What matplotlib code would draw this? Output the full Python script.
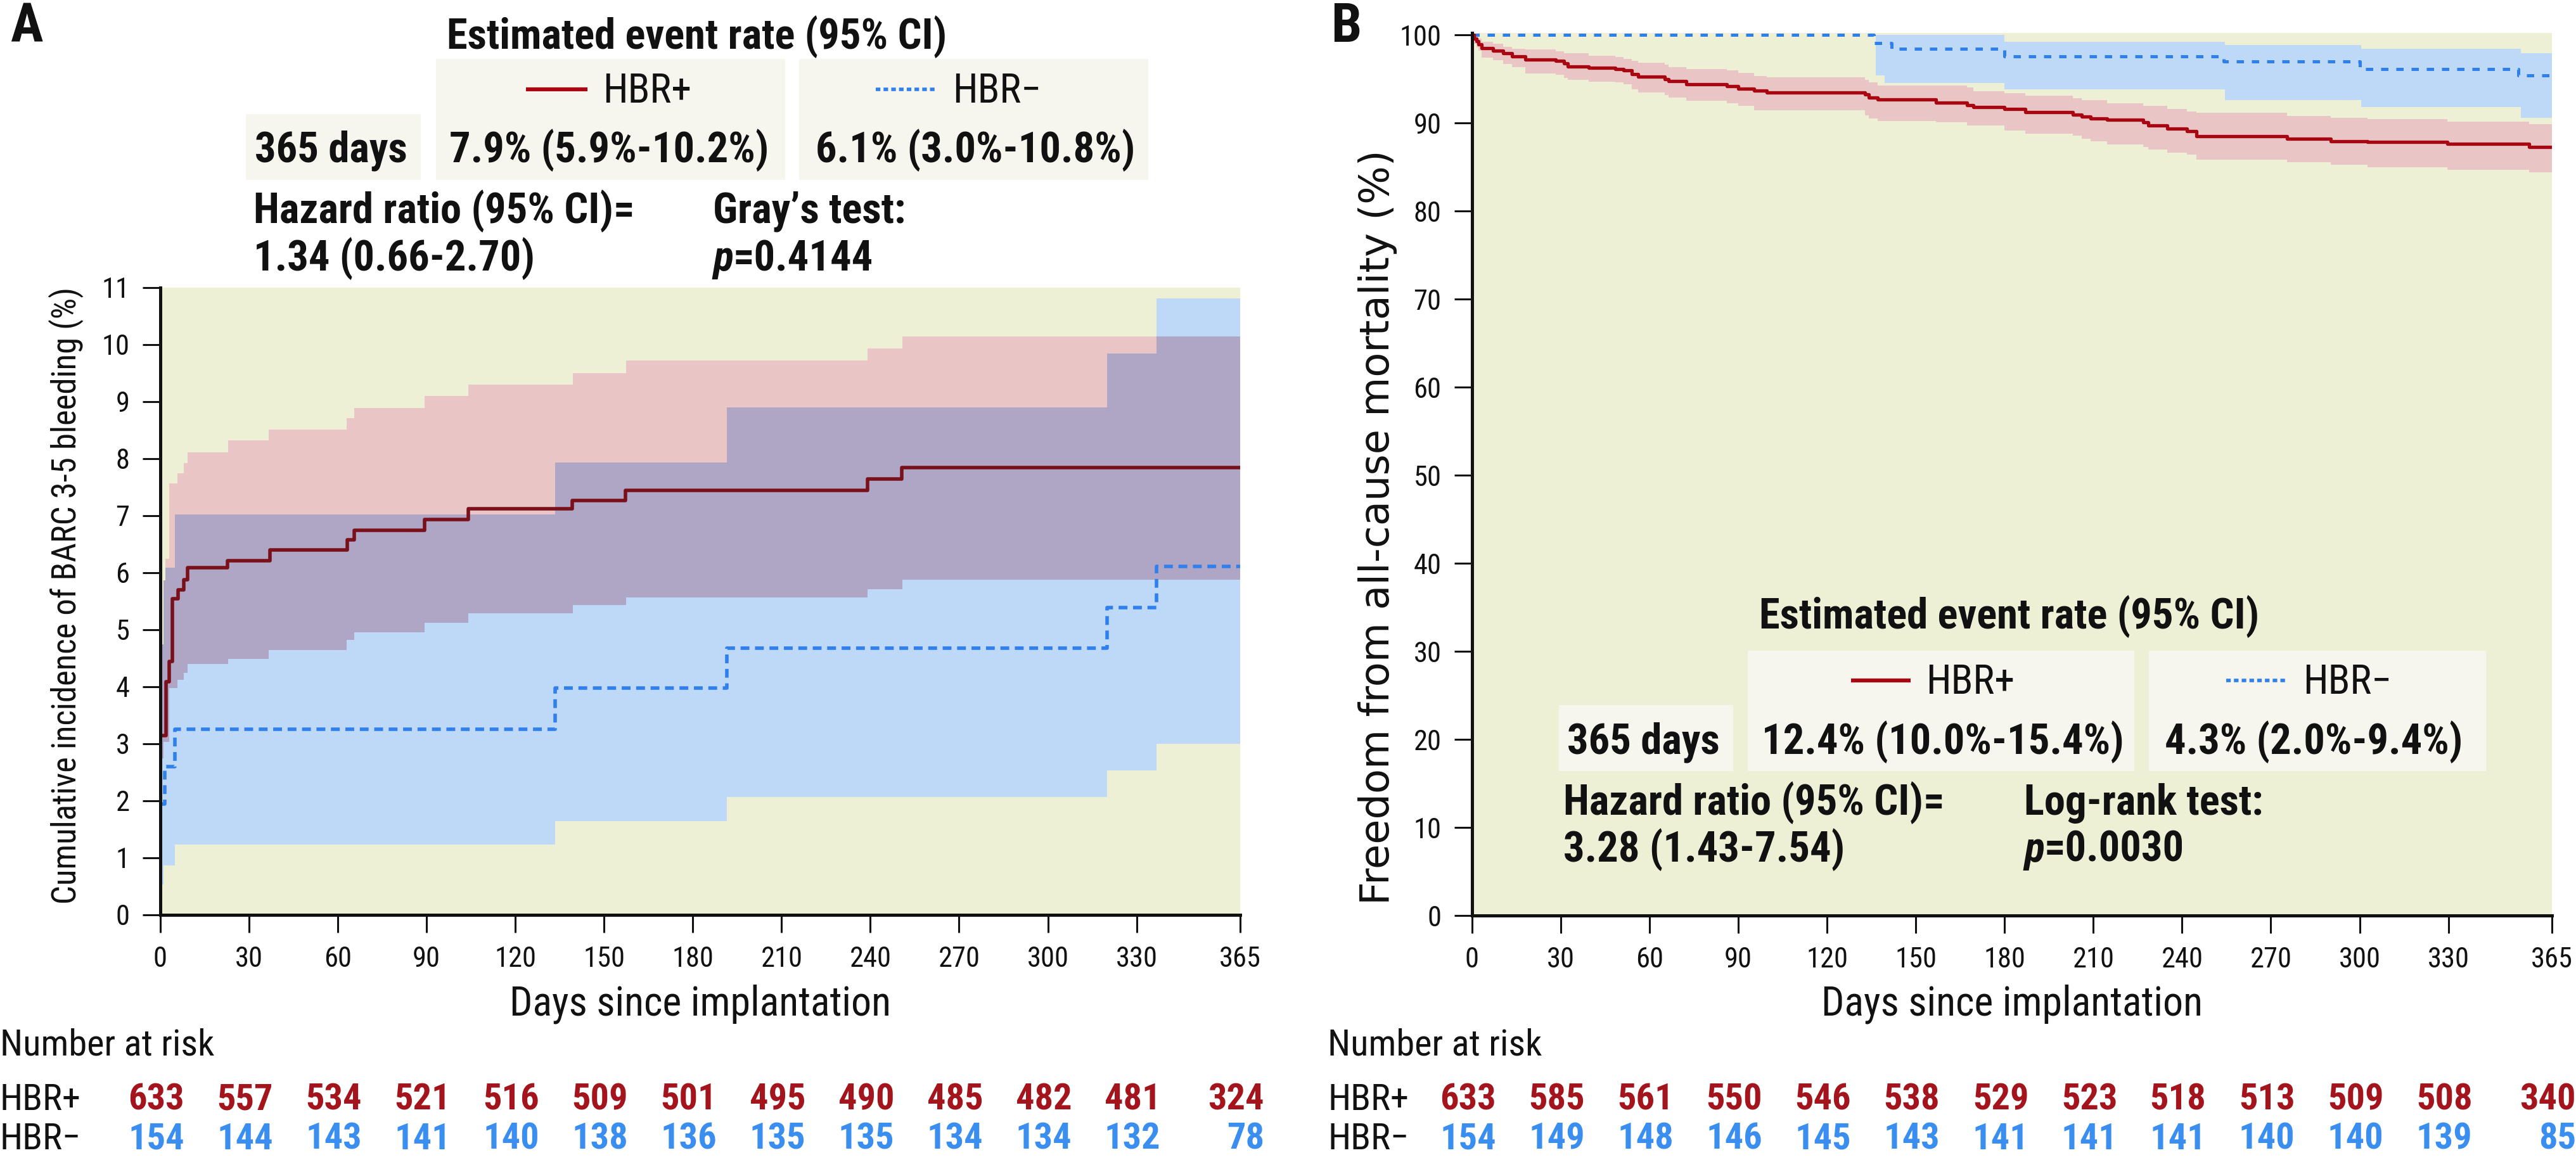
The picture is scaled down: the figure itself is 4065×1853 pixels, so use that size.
import numpy as np
import matplotlib
matplotlib.use("Agg")
import matplotlib.pyplot as plt
from matplotlib import font_manager as fm, transforms
from matplotlib.patches import Rectangle
from matplotlib.lines import Line2D

# ---------------- data ----------------
tick_days = [0, 30, 60, 90, 120, 150, 180, 210, 240, 270, 300, 330, 365]

# Panel A: cumulative incidence of BARC 3-5 bleeding (%)
A_pos_t = [0, 1.9, 3.0, 4.0, 6.0, 7.9, 9.2, 22.6, 37.1, 63.2, 65.5, 89.3, 104.2, 139.3, 157.3, 239.0, 250.7]
A_pos_v = [3.15, 4.09, 4.44, 5.55, 5.70, 5.88, 6.09, 6.21, 6.40, 6.58, 6.74, 6.93, 7.12, 7.27, 7.44, 7.64, 7.84]
A_pos_ci_t = [0, 1.1, 1.8, 3.1, 5.8, 7.9, 9.3, 23.0, 36.6, 63.0, 65.5, 89.3, 104.0, 139.5, 157.5, 239.0, 250.8]
A_pos_hi = [4.75, 5.87, 6.25, 7.57, 7.74, 7.92, 8.11, 8.32, 8.51, 8.71, 8.89, 9.10, 9.30, 9.50, 9.72, 9.93, 10.15]
A_pos_lo = [2.75, 3.03, 3.03, 3.98, 4.12, 4.25, 4.40, 4.49, 4.64, 4.82, 4.96, 5.12, 5.29, 5.43, 5.57, 5.71, 5.88]
A_neg_t = [0, 1.4, 4.9, 133.5, 191.6, 320.0, 336.8]
A_neg_v = [1.94, 2.60, 3.26, 3.98, 4.68, 5.39, 6.11]
A_neg_ci_t = [0, 1.1, 1.8, 5.0, 133.5, 191.6, 320.0, 336.8]
A_neg_hi = [4.75, 5.87, 6.09, 7.02, 7.93, 8.90, 9.84, 10.81]
A_neg_lo = [0.53, 0.87, 0.87, 1.23, 1.64, 2.07, 2.53, 3.00]

# Panel B: freedom from all-cause mortality (%)
B_pos_t = [0, 0.6, 1.4, 2.2, 3.2, 7.0, 10.5, 13.5, 18.0, 28.3, 31.0, 32.4, 39.5, 48.4, 51.2, 54.0, 56.1,
           65.2, 66.4, 72.5, 86.1, 90.0, 95.3, 99.6, 132.8, 134.0, 137.1, 156.8, 167.2, 169.4, 180.0, 187.0,
           203.0, 206.0, 209.1, 214.6, 226.9, 228.5, 234.9, 241.7, 244.8, 275.5, 290.3, 302.6, 329.6, 357.3]
B_pos_v = [100, 99.57, 99.33, 98.97, 98.49, 98.25, 97.96, 97.62, 97.21, 97.05, 96.76, 96.45, 96.28, 96.16,
           95.97, 95.56, 95.32, 95.01, 94.81, 94.45, 94.17, 93.93, 93.69, 93.52, 93.28, 92.89, 92.68, 92.34,
           92.05, 91.84, 91.60, 91.28, 91.00, 90.76, 90.56, 90.42, 90.08, 89.77, 89.41, 89.12, 88.50, 88.21,
           87.97, 87.85, 87.64, 87.32]
B_pos_hi = [100, 99.9, 99.8, 99.6, 99.26, 99.02, 98.68, 98.44, 98.37, 98.13, 97.96, 97.96, 97.65, 97.53,
            97.33, 97.05, 96.88, 96.64, 96.37, 96.16, 95.97, 95.73, 95.37, 95.20, 94.89, 94.65, 94.29, 94.29,
            94.05, 93.64, 93.40, 93.09, 92.85, 92.61, 92.61, 92.24, 91.96, 91.96, 91.64, 91.36, 91.16, 90.80,
            90.61, 90.49, 90.16, 89.92]
B_pos_lo = [100, 99.0, 98.6, 98.2, 97.41, 97.17, 96.69, 96.37, 95.65, 95.49, 95.17, 94.93, 94.72, 94.65,
            94.41, 93.81, 93.52, 93.21, 92.92, 92.56, 92.24, 92.00, 91.48, 91.48, 90.92, 90.56, 90.28, 90.08,
            89.77, 89.77, 89.20, 88.81, 88.60, 88.21, 87.92, 87.61, 87.32, 87.03, 86.67, 86.43, 85.88, 85.59,
            85.28, 84.99, 84.68, 84.44]
B_neg_t = [0, 135.9, 141.9, 180.0, 254.0, 300.1, 353.6]
B_neg_v = [100, 99.09, 98.42, 97.62, 97.00, 96.16, 95.46]
B_neg_ci_t = [0, 136.5, 139.5, 180.0, 254.5, 300.5, 354.6]
B_neg_hi = [100, 100, 100, 99.21, 98.85, 98.42, 97.98]
B_neg_lo = [100, 95.41, 94.60, 93.85, 92.65, 91.81, 90.61]

A_risk_pos = [633, 557, 534, 521, 516, 509, 501, 495, 490, 485, 482, 481, 324]
A_risk_neg = [154, 144, 143, 141, 140, 138, 136, 135, 135, 134, 134, 132, 78]
B_risk_pos = [633, 585, 561, 550, 546, 538, 529, 523, 518, 513, 509, 508, 340]
B_risk_neg = [154, 149, 148, 146, 145, 143, 141, 141, 141, 140, 140, 139, 85]

A_rates = ["7.9% (5.9%-10.2%)", "6.1% (3.0%-10.8%)"]
B_rates = ["12.4% (10.0%-15.4%)", "4.3% (2.0%-9.4%)"]
A_hr = "1.34 (0.66-2.70)"
B_hr = "3.28 (1.43-7.54)"
A_p = "=0.4144"
B_p = "=0.0030"

# ---------------- style ----------------
BEIGE = "#eef0d6"
PINK = "#e9c5c6"
BLUEF = "#bed8f8"
PURPLE = "#afa6c5"
BOX = "#f7f6ee"
RED_A = "#7a1019"
RED_B = "#a80712"
BLUE_L = "#2f80ed"
RISK_RED = "#a3141c"
RISK_BLUE = "#3a8ef0"
INK = "#111111"

names = {f.name for f in fm.fontManager.ttflist}
NARROW = next((n for n in ["Liberation Sans Narrow", "Roboto Condensed", "Open Sans Condensed",
                           "DejaVu Sans Condensed"] if n in names), "Liberation Sans")
NFAM = [NARROW, "DejaVu Sans"]
plt.rcParams["font.family"] = NFAM

W, H = 4065, 1853
fig = plt.figure(figsize=(W / 100, H / 100), dpi=100)


def fx(x):
    return x / W


def fy(y):
    return 1 - y / H


def T(x, y, s, size, weight="normal", ha="left", va="baseline", color=INK, **kw):
    return fig.text(fx(x), fy(y), s, fontsize=size, fontweight=weight, ha=ha, va=va,
                    color=color, family=kw.pop("family", NFAM), **kw)


def box(x1, y1, x2, y2):
    fig.add_artist(Rectangle((fx(x1), fy(y2)), fx(x2 - x1), (y2 - y1) / H,
                             transform=fig.transFigure, color=BOX, lw=0, zorder=1))


def step_at(t, v, grid):
    idx = np.searchsorted(np.asarray(t), grid, side="right") - 1
    return np.asarray(v, float)[np.clip(idx, 0, None)]


def bands(ax, tp, lop, hip, tn, lon, hin):
    grid = np.union1d(np.union1d(tp, tn), [365.0])
    lp, hp = step_at(tp, lop, grid), step_at(tp, hip, grid)
    ln, hn = step_at(tn, lon, grid), step_at(tn, hin, grid)
    ax.fill_between(grid, lp, hp, step="post", color=PINK, lw=0, zorder=1)
    ax.fill_between(grid, ln, hn, step="post", color=BLUEF, lw=0, zorder=1.1)
    lo = np.maximum(lp, ln)
    hi = np.maximum(np.minimum(hp, hn), lo)
    ax.fill_between(grid, lo, hi, step="post", color=PURPLE, lw=0, zorder=1.2)


def kmline(ax, t, v, **kw):
    ax.step(np.append(t, 365), np.append(v, v[-1]), where="post", **kw)


def setup(ax, ymax, yticks):
    ax.set_facecolor(BEIGE)
    ax.set_xlim(0, 365)
    ax.set_ylim(0, ymax)
    for s in ("top", "right"):
        ax.spines[s].set_visible(False)
    for s in ("left", "bottom"):
        ax.spines[s].set_linewidth(3.6)
        ax.spines[s].set_color(INK)
        ax.spines[s].set_zorder(5)
    ax.set_xticks(tick_days)
    ax.set_yticks(yticks)
    ax.tick_params(direction="out", length=20, width=2.2, pad=15, labelsize=32, colors=INK)


# ---------------- Panel A ----------------
axA = fig.add_axes([fx(253), fy(1444), fx(1957 - 253), (1444 - 454) / H])
setup(axA, 11, range(0, 12))
bands(axA, A_pos_ci_t, A_pos_lo, A_pos_hi, A_neg_ci_t, A_neg_lo, A_neg_hi)
kmline(axA, A_neg_t, A_neg_v, color=BLUE_L, lw=4.0, dashes=(2.5, 1.6), zorder=3)
kmline(axA, A_pos_t, A_pos_v, color=RED_A, lw=4.0, zorder=4)

# ---------------- Panel B ----------------
axB = fig.add_axes([fx(2323), fy(1445), fx(4027 - 2323), (1445 - 52) / H])
setup(axB, 100.25, range(0, 101, 10))
bands(axB, B_pos_t, B_pos_lo, B_pos_hi, B_neg_ci_t, B_neg_lo, B_neg_hi)
kmline(axB, B_neg_t, B_neg_v, color=BLUE_L, lw=3.6, dashes=(2.3, 2.5), zorder=3)
kmline(axB, B_pos_t, B_pos_v, color=RED_B, lw=3.8, zorder=4)

# axis labels
T(104, 940, "Cumulative incidence of BARC 3-5 bleeding (%)", 38, ha="center", va="center",
  rotation=90)
T(2174, 832, "Freedom from all-cause mortality (%)", 46, ha="center", va="center",
  rotation=90, family=["DejaVu Sans"])
T(1105, 1603, "Days since implantation", 46, ha="center")
T(3175, 1603, "Days since implantation", 46, ha="center")

# panel letters
T(16, 66, "A", 62, weight="bold")
T(2100, 66, "B", 62, weight="bold")

renderer = fig.canvas.get_renderer()


def p_text(x, y, rest, size):
    t = T(x, y, "p", size, weight="bold", style="italic")
    bb = t.get_window_extent(renderer)
    fig.text(bb.x1 / W, fy(y), rest, fontsize=size, fontweight="bold", ha="left", va="baseline",
             color=INK, family=NFAM)


def header(y_title, xc_title, boxes365, boxpos, boxneg, leg_y, leg_pos, leg_neg,
           rates_y, x365, xr1, xr2, rates, hr_y1, hr_y2, xhr, xtest, testname, hr, pval):
    box(*boxes365)
    box(*boxpos)
    box(*boxneg)
    T(xc_title, y_title, "Estimated event rate (95% CI)", 48, weight="bold", ha="center")
    fig.add_artist(Line2D([fx(leg_pos[0]), fx(leg_pos[1])], [fy(leg_y)] * 2, transform=fig.transFigure,
                          color=RED_B, lw=4.5, solid_capstyle="butt", zorder=3))
    T(leg_pos[1] + 24, leg_y + 21, "HBR+", 46)
    fig.add_artist(Line2D([fx(leg_neg[0]), fx(leg_neg[1])], [fy(leg_y)] * 2, transform=fig.transFigure,
                          color=BLUE_L, lw=4.0, dashes=(1.3, 0.9), zorder=3))
    T(leg_neg[1] + 24, leg_y + 21, "HBR\u2212", 46)
    T(x365, rates_y, "365 days", 48, weight="bold")
    T(xr1, rates_y, rates[0], 48, weight="bold")
    T(xr2, rates_y, rates[1], 48, weight="bold")
    T(xhr, hr_y1, "Hazard ratio (95% CI)=", 48, weight="bold")
    T(xhr, hr_y2, hr, 48, weight="bold")
    T(xtest, hr_y1, testname, 48, weight="bold")
    p_text(xtest, hr_y2, pval, 48)


header(77, 1100, (388, 180, 664, 284), (688, 93, 1239, 284), (1261, 93, 1812, 284),
       141, (830, 927), (1382, 1479), 256, 402, 709, 1287, A_rates, 352, 427, 400, 1125,
       "Gray\u2019s test:", A_hr, A_p)
header(992, 3171, (2460, 1113, 2735, 1217), (2758, 1027, 3368, 1217), (3391, 1027, 3923, 1217),
       1074, (2921, 3015), (3513, 3610), 1190, 2473, 2780, 3416, B_rates, 1286, 1360, 2467, 3194,
       "Log-rank test:", B_hr, B_p)


# ---------------- number at risk ----------------
def risk(ax, xlab, pos, neg):
    T(xlab, 1666, "Number at risk", 42)
    T(xlab, 1752, "HBR+", 42)
    T(xlab, 1814, "HBR\u2212", 42)
    off = transforms.ScaledTranslation(0.38, 0, fig.dpi_scale_trans)
    tr = transforms.blended_transform_factory(ax.transData, fig.transFigure) + off
    for d, a, b in zip(tick_days, pos, neg):
        fig.text(d, fy(1752), str(a), transform=tr, ha="right", va="baseline", fontsize=42,
                 fontweight="bold", color=RISK_RED, family=NFAM)
        fig.text(d, fy(1814), str(b), transform=tr, ha="right", va="baseline", fontsize=42,
                 fontweight="bold", color=RISK_BLUE, family=NFAM)


risk(axA, 0, A_risk_pos, A_risk_neg)
risk(axB, 2095, B_risk_pos, B_risk_neg)

fig.savefig("out.png", dpi=100)
